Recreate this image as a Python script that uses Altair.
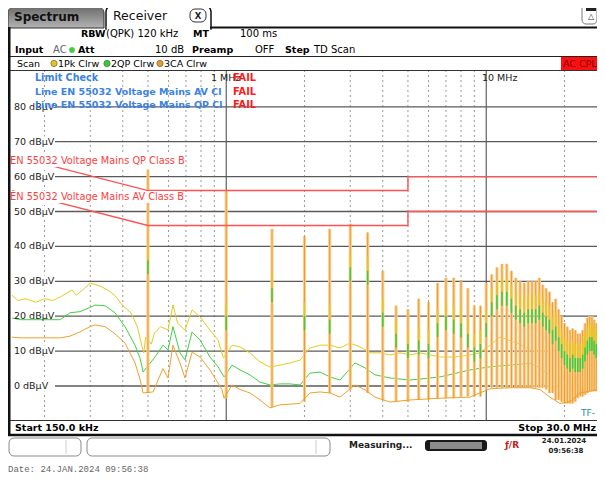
import altair as alt
import pandas as pd

SANS = "DejaVu Sans"
MONO = "Liberation Mono"
OFF = 8  # page margin
W, H = 589, 467

# ---------------- measurement data (MHz, dBµV) ----------------
pk_freq = [0.150, 0.158, 0.170, 0.185, 0.200, 0.215, 0.230, 0.255, 0.265, 0.285, 0.300, 0.315,
           0.330, 0.350, 0.373, 0.400, 0.430, 0.455, 0.472, 0.482, 0.490, 0.515, 0.530, 0.560,
           0.597, 0.624, 0.650, 0.694, 0.739, 0.793, 0.866, 0.930, 0.975, 1.053, 1.130, 1.234,
           1.349, 1.474, 1.610, 1.759, 1.922, 2.100, 2.294, 2.507, 2.739, 2.993, 3.271, 3.573,
           3.904, 4.266, 4.661, 5.093, 5.565, 6.642, 7.584, 8.662, 9.464, 10.34, 11.30, 12.35,
           13.49, 14.74, 16.10, 17.59, 19.22, 21.00, 22.94, 25.07, 27.39, 30.0]
pk_level = [26.0, 24.5, 25.0, 24.0, 25.0, 24.5, 25.5, 27.5, 26.0, 28.0, 29.5, 29.0,
            28.5, 27.5, 26.0, 23.0, 21.0, 17.0, 12.0, 9.5, 14.0, 12.0, 15.2, 17.0,
            16.0, 23.2, 18.0, 16.0, 21.8, 19.8, 16.0, 13.2, 8.0, 11.7, 11.2, 9.5,
            6.9, 5.4, 6.0, 6.6, 7.4, 10.9, 11.7, 11.7, 10.9, 12.3, 11.2, 9.5,
            9.5, 8.9, 9.5, 8.9, 9.5, 8.3, 8.3, 8.9, 9.5, 11.7, 14.0, 13.0,
            12.0, 10.3, 9.7, 10.3, 8.3, 11.7, 14.6, 13.8, 11.7, 11.0]

qp_freq = [0.150, 0.161, 0.192, 0.230, 0.251, 0.274, 0.299, 0.313, 0.342, 0.373, 0.408, 0.446,
           0.466, 0.479, 0.532, 0.571, 0.597, 0.624, 0.664, 0.694, 0.739, 0.793, 0.866, 0.930,
           0.981, 1.053, 1.130, 1.234, 1.349, 1.474, 1.610, 1.759, 1.922, 2.100, 2.294, 2.507,
           2.739, 3.128, 3.419, 3.735, 4.266, 5.093, 6.642, 8.662, 10.34, 12.35, 14.74, 16.10,
           17.59, 19.22, 21.00, 22.94, 25.07, 27.39, 30.0]
qp_level = [19.5, 19.0, 19.0, 19.0, 21.0, 21.3, 22.5, 23.2, 23.0, 21.0, 17.0, 11.7,
            8.0, 4.0, 8.3, 11.7, 10.3, 17.0, 9.5, 7.5, 15.5, 13.2, 8.3, 5.5,
            2.6, 6.0, 4.6, 3.2, 1.1, 0.3, 0.6, 0.6, 0.3, 3.7, 4.0, 2.6,
            1.7, 6.6, 5.2, 3.2, 2.3, 1.7, 2.6, 4.6, 5.5, 6.0, 6.5, 5.2,
            3.0, 1.7, 5.0, 9.5, 9.0, 8.0, 8.0]

ca_freq = [0.150, 0.161, 0.192, 0.230, 0.251, 0.274, 0.299, 0.313, 0.342, 0.373, 0.408, 0.446,
           0.466, 0.479, 0.523, 0.571, 0.597, 0.624, 0.664, 0.694, 0.739, 0.793, 0.866, 0.963,
           0.981, 1.053, 1.130, 1.234, 1.349, 1.474, 1.610, 1.922, 2.100, 2.294, 2.507, 2.739,
           3.128, 3.419, 3.735, 4.266, 5.093, 6.642, 8.662, 10.34, 12.35, 14.74, 16.10, 17.59,
           19.22, 21.00, 22.94, 25.07, 27.39, 30.0]
ca_level = [14.0, 13.8, 13.8, 13.8, 14.3, 15.5, 17.0, 17.5, 17.0, 15.0, 12.3, 6.6,
            2.0, -2.0, -1.7, 5.0, 2.3, 11.7, 6.6, 2.3, 9.7, 8.3, 4.6, -1.0,
            -3.5, 0.3, -1.0, -2.0, -4.0, -6.3, -5.4, -5.0, -2.0, -1.7, -2.0, -3.2,
            0.3, -1.1, -3.2, -4.6, -4.0, -3.5, -3.2, -0.8, -0.5, -0.5, -1.0, -3.2,
            -5.0, -4.5, -2.0, -1.5, -1.0, -1.0]

# harmonic spikes (500 kHz clock)
harm_freq = [0.5, 1.0, 1.5, 2.0, 2.5, 3.0, 3.5, 4.0, 4.5, 5.0, 5.5, 6.0, 6.5, 7.0, 7.5, 8.0,
             8.5, 9.0, 9.5, 10.0, 10.5, 11.0, 11.5, 12.0, 12.5, 13.0, 13.5, 14.0, 14.5, 15.0,
             15.5, 16.0, 16.5, 17.0, 17.5, 18.0, 18.5, 19.0, 19.5, 20.0, 20.5, 21.0, 21.5,
             22.0, 22.5, 23.0, 23.5, 24.0, 24.5, 25.0, 25.5, 26.0, 26.5, 27.0, 27.5, 28.0]
harm_pk = [62, 56, 45, 43, 45, 46.5, 44, 33, 23, 22, 25, 24, 29.5, 31, 31, 30, 28, 23, 23, 29.5,
           32, 34, 35, 35, 33, 31, 30, 29.5, 30, 30, 30, 31, 29, 28, 27, 24, 25, 22, 20, 18,
           17, 16, 16.5, 16, 15, 15, 16, 18, 19.5, 20, 20, 19, 18, 17, 16, 15]
harm_qp = [36, 20, 28, 20, 19, 34, 33, 21, 15, 12, 13, 12, 18, 20, 19, 18, 15, 11, 12, 18,
           24, 26, 27, 27, 25, 23, 22, 21, 22, 22, 22, 23, 21, 20, 19, 16, 17, 14, 12, 10,
           9, 8, 9, 8, 8, 8, 9, 11, 13, 14, 14, 13, 12, 11, 10, 9]
harm_low = [-2, -3.5, -6, -4.5, -2, -1, -2, -4, -4.5, -4.5, -4, -4, -3.5, -3.5, -3.5, -3, -3, -3,
            -3, -1, -0.5, -0.5, -0.5, -0.5, -0.5, -0.5, -0.5, -0.5, -0.5, -0.5, -0.5, -0.5,
            -0.5, -1, -2, -2, -4, -4, -4.5, -5, -5, -5, -5, -4.5, -3.5, -3, -3, -2.5, -2, -1.5,
            -1.5, -1.5, -1.5, -1.5, -1.5, -1.5]

# limit lines
qp_lim_freq = [0.15, 0.5, 5.0, 5.0, 30.0]
qp_lim_level = [66, 56, 56, 60, 60]
av_lim_freq = [0.15, 0.5, 5.0, 5.0, 30.0]
av_lim_level = [56, 46, 46, 50, 50]

grid_levels = [0, 10, 20, 30, 40, 50, 60, 70, 80]
grid_labels = ["0 dBµV", "10 dBµV", "20 dBµV", "30 dBµV", "40 dBµV", "50 dBµV",
               "60 dBµV", "70 dBµV", "80 dBµV"]
minor_freqs = [0.2, 0.3, 0.4, 0.5, 0.6, 0.7, 0.8, 0.9, 2, 3, 4, 5, 6, 7, 8, 9, 20]
major_freqs = [1, 10]

# ---------------- scales ----------------
X0 = 12 - OFF
DEC = 260.0
Y0 = 386 - OFF
P10 = 34.9
xs = alt.Scale(type="log", domain=[0.15, 30], range=[X0, X0 + DEC * 2.30103], nice=False)
ys = alt.Scale(domain=[-10, 90], range=[Y0 + P10, Y0 - 9 * P10], nice=False, zero=False)

one = pd.DataFrame({"k": [0]})


def T(x, y, s, size=10, weight="normal", color="#000000", align="left", font=SANS):
    return alt.Chart(one).mark_text(text=s, fontSize=size, fontWeight=weight, color=color,
                                    align=align, baseline="middle", font=font).encode(
        x=alt.value(x - OFF), y=alt.value(y - OFF))


def R(x1, y1, x2, y2, fill="#ffffff", stroke=None, sw=1.0, radius=0, **kw):
    opts = dict(fill=fill, cornerRadius=radius, **kw)
    if stroke:
        opts.update(stroke=stroke, strokeWidth=sw)
    return alt.Chart(one).mark_rect(**opts).encode(
        x=alt.value(x1 - OFF), x2=alt.value(x2 - OFF), y=alt.value(y1 - OFF), y2=alt.value(y2 - OFF))


def L(x1, y1, x2, y2, color="#000000", sw=1.0, dash=None):
    opts = dict(color=color, strokeWidth=sw)
    if dash:
        opts["strokeDash"] = dash
    return alt.Chart(one).mark_rule(**opts).encode(
        x=alt.value(x1 - OFF), x2=alt.value(x2 - OFF), y=alt.value(y1 - OFF), y2=alt.value(y2 - OFF))


def P(x, y, color, size=40, stroke="#555555"):
    return alt.Chart(one).mark_point(filled=True, shape="circle", size=size, color=color,
                                     stroke=stroke, strokeWidth=0.6, opacity=1).encode(
        x=alt.value(x - OFF), y=alt.value(y - OFF))


RIGHT = OFF + W  # right page edge that can be drawn
layers = []

# ---------- plot grid ----------
layers.append(alt.Chart(pd.DataFrame({"f": minor_freqs})).mark_rule(
    color="#9a9a9a", strokeWidth=1, strokeDash=[2, 3]).encode(
    x=alt.X("f:Q", scale=xs, axis=None), y=alt.value(70 - OFF), y2=alt.value(420 - OFF)))
layers.append(alt.Chart(pd.DataFrame({"f": major_freqs})).mark_rule(
    color="#404040", strokeWidth=1).encode(
    x=alt.X("f:Q", scale=xs, axis=None), y=alt.value(70 - OFF), y2=alt.value(420 - OFF)))
grid_df = pd.DataFrame({"v": grid_levels, "lab": grid_labels})
layers.append(alt.Chart(grid_df).mark_rule(color="#5a5a5a", strokeWidth=1.3).encode(
    y=alt.Y("v:Q", scale=ys, axis=None), x=alt.value(12 - OFF), x2=alt.value(RIGHT - OFF)))
# label backgrounds
layers.append(alt.Chart(grid_df).mark_rule(color="#ffffff", strokeWidth=11, strokeCap="butt").encode(
    y=alt.Y("v:Q", scale=ys, axis=None), x=alt.value(12 - OFF), x2=alt.value(55 - OFF)))

# ---------- traces ----------
spk = pd.DataFrame({"f": harm_freq, "pk": harm_pk, "qp": harm_qp, "low": harm_low})
spk["qlo"] = spk["qp"] - 4
spk["yhi"] = spk["qp"] + 4

layers.append(alt.Chart(pd.DataFrame({"f": pk_freq, "v": pk_level})).mark_line(
    color="#e2cc1c", strokeWidth=1, clip=True).encode(
    x=alt.X("f:Q", scale=xs, axis=None), y=alt.Y("v:Q", scale=ys, axis=None)))
layers.append(alt.Chart(pd.DataFrame({"f": qp_freq, "v": qp_level})).mark_line(
    color="#3fd23f", strokeWidth=1, clip=True).encode(
    x=alt.X("f:Q", scale=xs, axis=None), y=alt.Y("v:Q", scale=ys, axis=None)))
layers.append(alt.Chart(spk).mark_rule(color="#f9cf97", strokeWidth=3.2, clip=True).encode(
    x=alt.X("f:Q", scale=xs, axis=None), y=alt.Y("low:Q", scale=ys, axis=None), y2="pk:Q"))
layers.append(alt.Chart(pd.DataFrame({"f": ca_freq, "v": ca_level})).mark_line(
    color="#f0a02a", strokeWidth=1, clip=True).encode(
    x=alt.X("f:Q", scale=xs, axis=None), y=alt.Y("v:Q", scale=ys, axis=None)))
layers.append(alt.Chart(spk).mark_rule(color="#f09a1e", strokeWidth=1, clip=True).encode(
    x=alt.X("f:Q", scale=xs, axis=None), y=alt.Y("low:Q", scale=ys, axis=None), y2="pk:Q"))
layers.append(alt.Chart(spk).mark_rule(color="#e6c61c", strokeWidth=1.6, clip=True).encode(
    x=alt.X("f:Q", scale=xs, axis=None), y=alt.Y("qp:Q", scale=ys, axis=None), y2="yhi:Q"))
layers.append(alt.Chart(spk).mark_rule(color="#3ccf3c", strokeWidth=1.6, clip=True).encode(
    x=alt.X("f:Q", scale=xs, axis=None), y=alt.Y("qlo:Q", scale=ys, axis=None), y2="qp:Q"))

# ---------- limit lines ----------
lim = pd.DataFrame({
    "f": qp_lim_freq + av_lim_freq,
    "v": qp_lim_level + av_lim_level,
    "lim": ["QP"] * len(qp_lim_freq) + ["AV"] * len(av_lim_freq),
    "seq": list(range(len(qp_lim_freq))) + list(range(len(av_lim_freq))),
})
layers.append(alt.Chart(lim).mark_line(color="#ff5252", strokeWidth=1.4, clip=True).encode(
    x=alt.X("f:Q", scale=xs, axis=None), y=alt.Y("v:Q", scale=ys, axis=None),
    detail="lim:N", order="seq:Q"))

# limit labels
layers.append(R(9, 155, 182, 167))
layers.append(R(9, 191, 182, 203))
layers.append(T(10, 161, "EN 55032 Voltage Mains QP Class B", size=9.8, color="#ff4040"))
layers.append(T(10, 197, "EN 55032 Voltage Mains AV Class B", size=9.8, color="#ff4040"))

# grid labels
layers.append(alt.Chart(grid_df).mark_text(align="left", baseline="middle", fontSize=9.5,
                                           font=SANS, color="#222222").encode(
    y=alt.Y("v:Q", scale=ys, axis=None), x=alt.value(14 - OFF), text="lab:N"))

# frequency labels / limit check block
layers.append(T(211, 78, "1 MHz", size=9.5, color="#222222"))
layers.append(T(482, 78, "10 MHz", size=9.5, color="#222222"))
layers.append(T(35, 78, "Limit Check", size=9.6, weight="bold", color="#3b82e6"))
layers.append(T(35, 92, "Line EN 55032 Voltage Mains AV Cl", size=9.5, weight="bold", color="#3b82e6"))
layers.append(T(35, 105, "Line EN 55032 Voltage Mains QP Cl", size=9.5, weight="bold", color="#3b82e6"))
for yy in (78, 92, 105):
    layers.append(T(233, yy, "FAIL", size=9.8, weight="bold", color="#ff1a1a"))
layers.append(T(581, 413, "TF-", size=9, color="#2a8aa0"))

# ---------- frame / chrome ----------
grad = alt.Gradient(gradient="linear", x1=0, x2=0, y1=0, y2=1,
                    stops=[alt.GradientStop(color="#6c6c6c", offset=0),
                           alt.GradientStop(color="#b4b4b4", offset=1)])
layers.append(R(8, 7, 104, 28, fill=grad, stroke="#333333", sw=1,
                cornerRadiusTopLeft=6, cornerRadiusTopRight=6))
layers.append(T(14, 17, "Spectrum", size=12, weight="bold", color="#111111"))
layers.append(R(106, 5, 211, 29, fill="#ffffff", stroke="#111111", sw=1.5,
                cornerRadiusTopLeft=7, cornerRadiusTopRight=7))
layers.append(R(106.8, 26, 210.2, 30, fill="#ffffff"))
layers.append(T(113, 16, "Receiver", size=12.5, color="#111111"))
layers.append(R(190, 9, 206, 22, fill="#ffffff", stroke="#333333", sw=1, radius=5))
layers.append(T(198, 15.5, "X", size=8.5, weight="bold", color="#222222", align="center"))
layers.append(L(210, 27.5, RIGHT, 27.5, color="#111111", sw=2))
layers.append(R(582, 4, RIGHT, 24, fill="#ffffff", stroke="#777777", sw=1, radius=4))
layers.append(R(586, 7, 596, 11, fill="#222222"))
layers.append(T(591, 17, "△", size=8, color="#333333", align="center"))

# header rows
layers.append(T(81, 34, "RBW", size=9.5, weight="bold"))
layers.append(T(106, 34, "(QPK) 120 kHz", size=10))
layers.append(T(193, 34, "MT", size=9.5, weight="bold"))
layers.append(T(240, 34, "100 ms", size=10))
layers.append(T(15, 50, "Input", size=9.5, weight="bold"))
layers.append(T(53, 50, "AC", size=10, color="#666666"))
layers.append(P(72, 50, "#44cc44", size=28, stroke="#44cc44"))
layers.append(T(78, 50, "Att", size=9.5, weight="bold"))
layers.append(T(155, 50, "10 dB", size=10))
layers.append(T(192, 50, "Preamp", size=9.5, weight="bold"))
layers.append(T(255, 50, "OFF", size=10))
layers.append(T(285, 50, "Step", size=9.5, weight="bold"))
layers.append(T(314, 50, "TD Scan", size=10))
layers.append(L(8, 56.5, RIGHT, 56.5, color="#222222", sw=1.2))
# scan row
layers.append(T(17, 63.5, "Scan", size=9.5))
layers.append(P(54, 63.5, "#e8c21c"))
layers.append(T(58, 63.5, "1Pk Clrw", size=9.5))
layers.append(P(107, 63.5, "#33cc33"))
layers.append(T(111, 63.5, "2QP Clrw", size=9.5))
layers.append(P(160, 63.5, "#ec9a2a"))
layers.append(T(164, 63.5, "3CA Clrw", size=9.5))
layers.append(R(561, 57, RIGHT, 70, fill="#ff1010"))
layers.append(T(563, 63.5, "AC CPL", size=9.5, color="#7a0000"))
layers.append(L(9, 70.5, RIGHT, 70.5, color="#333333", sw=1.2))
layers.append(L(9.5, 57, 9.5, 71, color="#333333", sw=1))

# bottom of plot
layers.append(L(8, 420.5, RIGHT, 420.5, color="#333333", sw=1.2))
layers.append(T(15, 427.5, "Start 150.0 kHz", size=9.5, weight="bold"))
layers.append(T(RIGHT - 1, 427.5, "Stop 30.0 MHz", size=9.5, weight="bold", align="right"))
layers.append(L(8, 435, RIGHT, 435, color="#111111", sw=2.5))
layers.append(L(9, 27, 9, 436, color="#111111", sw=3))

# status bar
layers.append(R(9, 438, 81, 456, fill="#ffffff", stroke="#8a8a8a", sw=1, radius=5))
layers.append(L(66, 440, 66, 454, color="#cccccc", sw=1))
layers.append(R(87, 438, 330, 456, fill="#ffffff", stroke="#8a8a8a", sw=1, radius=5))
layers.append(L(316, 440, 316, 454, color="#cccccc", sw=1))
layers.append(T(349, 445, "Measuring...", size=9, weight="bold", color="#222222"))
layers.append(R(425, 440, 487, 451, fill="#1a1a1a", radius=3))
layers.append(R(430, 442, 482, 449, fill="#8c8c8c"))
layers.append(T(512, 445, "ƒ/R", size=9, weight="bold", color="#c81818", align="center"))
layers.append(T(564, 441, "24.01.2024", size=7, weight="bold", color="#222222", align="center"))
layers.append(T(566, 451, "09:56:38", size=7, weight="bold", color="#222222", align="center"))
layers.append(T(8, 468.5, "Date: 24.JAN.2024  09:56:38", size=9, color="#666666", font=MONO))

chart = alt.layer(*layers).properties(
    width=W, height=H, autosize=alt.AutoSizeParams(type="none"), padding=0,
    background="#ffffff"
).configure_view(stroke=None)

chart.save("out.html", embed_options={"renderer": "svg", "actions": False})
